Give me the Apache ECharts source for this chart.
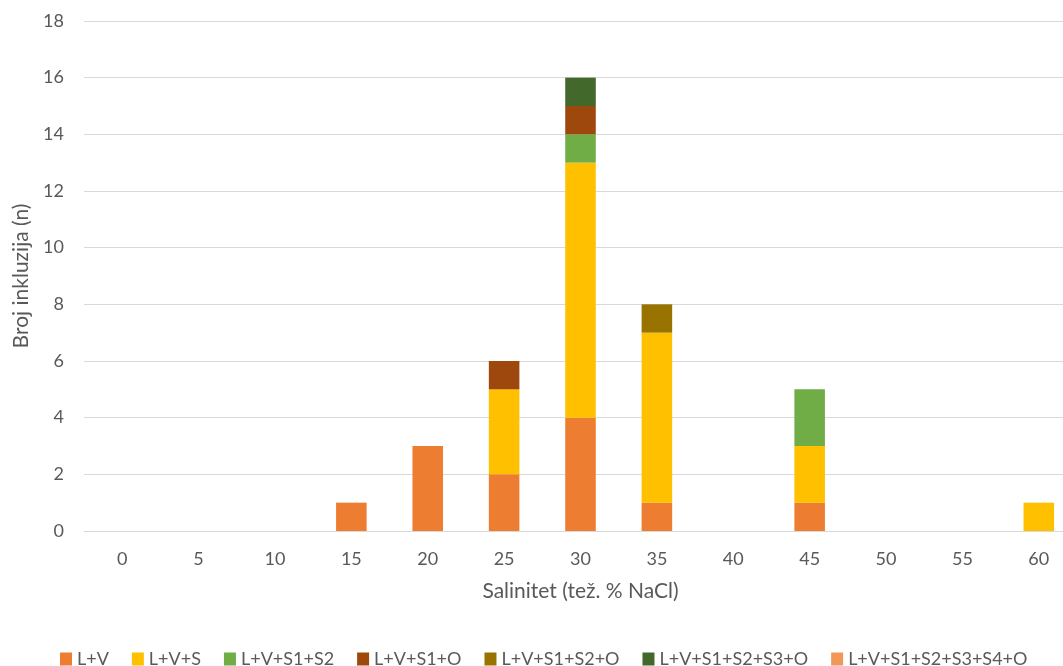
<!DOCTYPE html>
<html>
<head>
<meta charset="utf-8">
<script src="https://cdn.jsdelivr.net/npm/echarts@6/dist/echarts.min.js"></script>
<style>
  html, body { margin: 0; padding: 0; background: #fff; overflow: hidden; }
  #chart { width: 1080px; height: 666px; }
</style>
</head>
<body>
<div id="chart"></div>
<script>
// salinitet kategorije
const categories = ['0', '5', '10', '15', '20', '25', '30', '35', '40', '45', '50', '55', '60']
const seriesNames = ['L+V', 'L+V+S', 'L+V+S1+S2', 'L+V+S1+O', 'L+V+S1+S2+O', 'L+V+S1+S2+S3+O', 'L+V+S1+S2+S3+S4+O']
const lv = [0, 0, 0, 1, 3, 2, 4, 1, 0, 1, 0, 0, 0]
const lvs = [0, 0, 0, 0, 0, 3, 9, 6, 0, 2, 0, 0, 1]
const lvs1s2 = [0, 0, 0, 0, 0, 0, 1, 0, 0, 2, 0, 0, 0]
const lvs1o = [0, 0, 0, 0, 0, 1, 1, 0, 0, 0, 0, 0, 0]
const lvs1s2o = [0, 0, 0, 0, 0, 0, 0, 1, 0, 0, 0, 0, 0]
const lvs1s2s3o = [0, 0, 0, 0, 0, 0, 1, 0, 0, 0, 0, 0, 0]
const lvs1s2s3s4o = [0, 0, 0, 0, 0, 0, 0, 0, 0, 0, 0, 0, 0]
const colors = ['#ED7D31', '#FFC000', '#70AD47', '#9E480E', '#997300', '#43682B', '#F1975A']

const allData = [lv, lvs, lvs1s2, lvs1o, lvs1s2o, lvs1s2s3o, lvs1s2s3s4o]
const font = 'Lato, "Open Sans", sans-serif'

const mychart = echarts.init(document.getElementById('chart'))
const option = {
  textStyle: { fontFamily: font },
  legend: {
    left: 55,
    top: 645,
    itemWidth: 12,
    itemHeight: 13,
    itemGap: 23,
    icon: 'rect',
    textStyle: { color: '#595959', fontSize: 18, fontFamily: font },
    data: seriesNames
  },
  grid: {
    left: 84,
    top: 21,
    width: 993,
    height: 510,
    containLabel: false
  },
  xAxis: {
    type: 'category',
    data: categories,
    name: 'Salinitet (tež. % NaCl)',
    nameLocation: 'middle',
    nameGap: 50,
    nameTextStyle: { color: '#595959', fontSize: 21, fontFamily: font },
    axisLine: { show: true, lineStyle: { color: '#d9d9d9' } },
    axisTick: { show: false },
    axisLabel: { color: '#595959', fontSize: 18, margin: 19, fontFamily: font }
  },
  yAxis: {
    type: 'value',
    min: 0,
    max: 18,
    interval: 2,
    name: 'Broj inkluzija (n)',
    nameLocation: 'middle',
    nameGap: 49,
    nameTextStyle: { color: '#595959', fontSize: 21, fontFamily: font },
    axisLine: { show: false },
    axisTick: { show: false },
    axisLabel: { color: '#595959', fontSize: 18, margin: 20, fontFamily: font },
    splitLine: { lineStyle: { color: '#d9d9d9' } }
  },
  series: seriesNames.map(function (name, i) {
    return {
      name: name,
      type: 'bar',
      stack: 'total',
      barWidth: '40%',
      color: colors[i],
      itemStyle: { color: colors[i] },
      data: allData[i].map(function (v) { return v === 0 ? null : v })
    }
  })
}
mychart.setOption(option)
window.addEventListener('resize', function () {
  mychart.resize()
})
</script>
</body>
</html>
